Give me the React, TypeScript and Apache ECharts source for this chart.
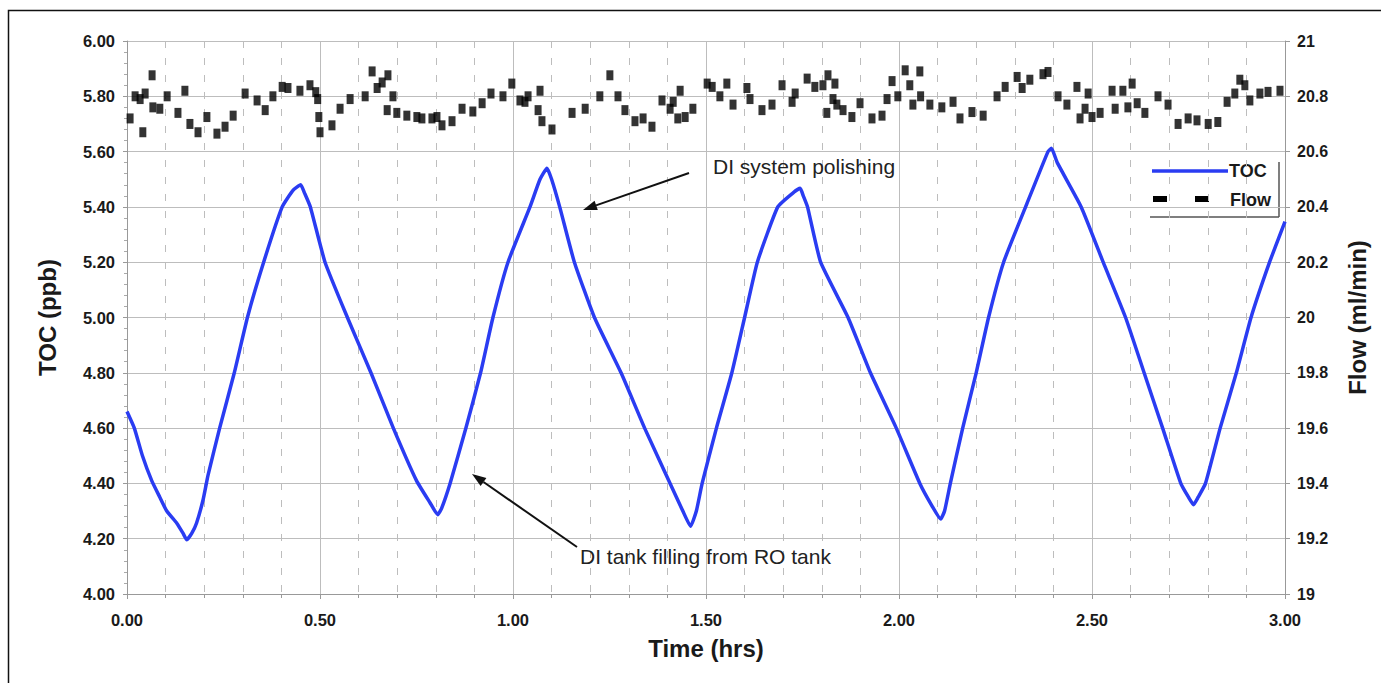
import React, { useEffect, useRef } from "react";
import * as echarts from "echarts";

// TOC (ppb) vs time (hrs)
const tocTime = [0, 0.019, 0.04, 0.064, 0.085, 0.103, 0.129, 0.145, 0.155, 0.168, 0.18, 0.197, 0.21, 0.24, 0.278, 0.312, 0.354, 0.402, 0.43, 0.45, 0.46, 0.475, 0.513, 0.571, 0.632, 0.69, 0.75, 0.785, 0.805, 0.815, 0.837, 0.878, 0.916, 0.948, 0.987, 1.044, 1.07, 1.088, 1.1, 1.121, 1.159, 1.211, 1.28, 1.341, 1.407, 1.44, 1.46, 1.475, 1.49, 1.527, 1.567, 1.6, 1.633, 1.686, 1.725, 1.744, 1.752, 1.763, 1.797, 1.868, 1.926, 1.993, 2.054, 2.085, 2.108, 2.118, 2.133, 2.165, 2.2, 2.232, 2.271, 2.328, 2.386, 2.395, 2.41, 2.472, 2.529, 2.587, 2.635, 2.683, 2.73, 2.75, 2.763, 2.775, 2.794, 2.832, 2.874, 2.912, 2.96, 3.0];
const tocValue = [4.66, 4.6, 4.5, 4.41, 4.35, 4.3, 4.256, 4.22, 4.196, 4.22, 4.256, 4.34, 4.43, 4.6, 4.8, 5.0, 5.2, 5.4, 5.46, 5.48, 5.45, 5.4, 5.2, 5.0, 4.8, 4.6, 4.41, 4.33, 4.287, 4.31, 4.4, 4.6, 4.8, 5.0, 5.2, 5.4, 5.5, 5.54, 5.5, 5.4, 5.2, 5.0, 4.8, 4.6, 4.4, 4.3, 4.245, 4.3, 4.4, 4.6, 4.8, 5.0, 5.2, 5.4, 5.45, 5.467, 5.44, 5.4, 5.2, 5.0, 4.8, 4.6, 4.4, 4.32, 4.271, 4.3, 4.4, 4.6, 4.8, 5.0, 5.2, 5.4, 5.6, 5.612, 5.56, 5.4, 5.2, 5.0, 4.8, 4.6, 4.4, 4.35, 4.323, 4.35, 4.4, 4.6, 4.8, 5.0, 5.2, 5.347];

// Flow (ml/min) vs time (hrs)
const flowTime = [0.008, 0.021, 0.034, 0.041, 0.047, 0.065, 0.067, 0.085, 0.104, 0.132, 0.15, 0.163, 0.184, 0.207, 0.233, 0.254, 0.275, 0.306, 0.337, 0.358, 0.378, 0.402, 0.417, 0.448, 0.474, 0.489, 0.494, 0.497, 0.5, 0.531, 0.552, 0.578, 0.617, 0.635, 0.648, 0.661, 0.674, 0.676, 0.689, 0.699, 0.725, 0.751, 0.764, 0.79, 0.803, 0.816, 0.842, 0.868, 0.896, 0.92, 0.943, 0.974, 0.997, 1.018, 1.031, 1.039, 1.065, 1.07, 1.075, 1.101, 1.153, 1.187, 1.225, 1.251, 1.272, 1.29, 1.316, 1.337, 1.36, 1.386, 1.407, 1.415, 1.427, 1.433, 1.446, 1.466, 1.503, 1.516, 1.536, 1.554, 1.57, 1.606, 1.614, 1.645, 1.671, 1.697, 1.723, 1.731, 1.762, 1.782, 1.803, 1.813, 1.816, 1.829, 1.834, 1.839, 1.855, 1.878, 1.899, 1.93, 1.956, 1.969, 1.982, 1.997, 2.016, 2.028, 2.036, 2.054, 2.056, 2.08, 2.111, 2.14, 2.158, 2.189, 2.218, 2.254, 2.275, 2.306, 2.319, 2.339, 2.373, 2.386, 2.412, 2.435, 2.461, 2.469, 2.482, 2.49, 2.5, 2.521, 2.552, 2.56, 2.58, 2.593, 2.604, 2.617, 2.637, 2.671, 2.697, 2.723, 2.749, 2.772, 2.801, 2.826, 2.85, 2.87, 2.883, 2.896, 2.909, 2.935, 2.956, 2.987];
const flowValue = [20.72, 20.8, 20.79, 20.67, 20.81, 20.876, 20.76, 20.755, 20.8, 20.74, 20.82, 20.7, 20.67, 20.725, 20.665, 20.69, 20.73, 20.81, 20.785, 20.75, 20.8, 20.834, 20.83, 20.82, 20.84, 20.815, 20.79, 20.725, 20.67, 20.695, 20.755, 20.79, 20.8, 20.89, 20.83, 20.85, 20.75, 20.876, 20.8, 20.74, 20.73, 20.725, 20.72, 20.72, 20.725, 20.695, 20.71, 20.755, 20.745, 20.775, 20.81, 20.8, 20.846, 20.785, 20.78, 20.8, 20.75, 20.82, 20.71, 20.68, 20.74, 20.755, 20.8, 20.876, 20.8, 20.75, 20.71, 20.72, 20.69, 20.785, 20.755, 20.78, 20.72, 20.82, 20.725, 20.755, 20.846, 20.834, 20.8, 20.846, 20.77, 20.83, 20.79, 20.75, 20.77, 20.84, 20.78, 20.81, 20.864, 20.834, 20.84, 20.74, 20.876, 20.79, 20.846, 20.77, 20.75, 20.725, 20.775, 20.72, 20.73, 20.79, 20.855, 20.8, 20.894, 20.84, 20.77, 20.89, 20.8, 20.77, 20.76, 20.78, 20.72, 20.743, 20.73, 20.8, 20.834, 20.87, 20.83, 20.86, 20.88, 20.888, 20.8, 20.77, 20.834, 20.72, 20.755, 20.81, 20.725, 20.74, 20.82, 20.755, 20.82, 20.76, 20.846, 20.775, 20.74, 20.8, 20.77, 20.7, 20.72, 20.713, 20.7, 20.707, 20.78, 20.81, 20.86, 20.84, 20.785, 20.81, 20.816, 20.82];

const FONT = '"Liberation Sans", Arial, sans-serif';
const BLUE = "#2a3cf2";

export default function App() {
  const ref = useRef<HTMLDivElement>(null);
  useEffect(() => {
    if (!ref.current) return;
    const chart = echarts.init(ref.current, null, { renderer: "svg" });
    const labelStyle = { fontFamily: FONT, fontSize: 16.5, fontWeight: "bold", color: "#1a1a1a" };
    const nameStyle = { fontFamily: FONT, fontSize: 24, fontWeight: "bold", color: "#1a1a1a" };
    chart.setOption({
      animation: false,
      backgroundColor: "#ffffff",
      textStyle: { fontFamily: FONT },
      grid: { left: 127, right: 96, top: 41, bottom: 89, containLabel: false },
      xAxis: {
        type: "value",
        min: 0,
        max: 3,
        interval: 0.5,
        name: "Time (hrs)",
        nameLocation: "middle",
        nameGap: 42,
        nameTextStyle: nameStyle,
        axisLabel: { ...labelStyle, margin: 17, formatter: (v: number) => v.toFixed(2) },
        axisLine: { show: true, lineStyle: { color: "#999", width: 1 } },
        axisTick: { show: true, length: 5, lineStyle: { color: "#999" } },
        minorTick: { show: true, splitNumber: 5, length: 4, lineStyle: { color: "#999" } },
        splitLine: { show: true, lineStyle: { color: "#bdbdbd", width: 1 } },
        minorSplitLine: { show: true, lineStyle: { color: "#bdbdbd", width: 1, type: [7, 10] } },
      },
      yAxis: [
        {
          type: "value",
          min: 4,
          max: 6,
          interval: 0.2,
          name: "TOC (ppb)",
          nameLocation: "middle",
          nameGap: 68,
          nameTextStyle: nameStyle,
          axisLabel: { ...labelStyle, margin: 12, formatter: (v: number) => v.toFixed(2) },
          axisLine: { show: true, lineStyle: { color: "#999" } },
          axisTick: { show: true, length: 4, lineStyle: { color: "#999" } },
          minorTick: { show: true, splitNumber: 5, length: 3, lineStyle: { color: "#aaa" } },
          splitLine: { show: true, lineStyle: { color: "#bdbdbd", width: 1 } },
        },
        {
          type: "value",
          min: 19,
          max: 21,
          interval: 0.2,
          position: "right",
          name: "Flow (ml/min)",
          nameLocation: "middle",
          nameGap: 60,
          nameTextStyle: nameStyle,
          axisLabel: { ...labelStyle, fontSize: 16, margin: 12 },
          axisLine: { show: true, lineStyle: { color: "#999" } },
          axisTick: { show: true, length: 5, lineStyle: { color: "#999" } },
          splitLine: { show: false },
        },
      ],
      series: [
        {
          name: "TOC",
          type: "line",
          yAxisIndex: 0,
          data: tocTime.map((t, i) => [t, tocValue[i]]),
          showSymbol: false,
          smooth: 0.15,
          lineStyle: { color: BLUE, width: 3.5, join: "round" },
          itemStyle: { color: BLUE },
          z: 3,
        },
        {
          name: "Flow",
          type: "scatter",
          yAxisIndex: 1,
          data: flowTime.map((t, i) => [t, flowValue[i]]),
          symbol: "rect",
          symbolSize: [7, 10],
          itemStyle: { color: "#000" },
          z: 4,
        },
      ],
      graphic: [
        {
          type: "rect",
          silent: true,
          shape: { x: 8.5, y: 10.5, width: 1380, height: 690 },
          style: { fill: "none", stroke: "#111", lineWidth: 1.5 },
          z: 0,
        },
        // legend
        {
          type: "group",
          z: 100,
          children: [
            { type: "rect", shape: { x: 1149, y: 161, width: 130, height: 55 }, style: { fill: "#fff" } },
            { type: "line", shape: { x1: 1279, y1: 162, x2: 1279, y2: 217 }, style: { stroke: "#555", lineWidth: 1.5 } },
            { type: "line", shape: { x1: 1150, y1: 217, x2: 1279, y2: 217 }, style: { stroke: "#555", lineWidth: 1.5 } },
            { type: "line", shape: { x1: 1152, y1: 171, x2: 1228, y2: 171 }, style: { stroke: BLUE, lineWidth: 3.5 } },
            { type: "text", x: 1229, y: 171, style: { text: "TOC", font: `bold 18px ${FONT}`, fill: "#1a1a1a", verticalAlign: "middle" } },
            { type: "rect", shape: { x: 1153, y: 196, width: 14, height: 6 }, style: { fill: "#000" } },
            { type: "rect", shape: { x: 1195, y: 196, width: 14, height: 6 }, style: { fill: "#000" } },
            { type: "text", x: 1230, y: 200, style: { text: "Flow", font: `bold 18px ${FONT}`, fill: "#1a1a1a", verticalAlign: "middle" } },
          ],
        },
        // annotations
        {
          type: "text",
          z: 100,
          x: 713,
          y: 166,
          style: { text: "DI system polishing", font: `21px ${FONT}`, fill: "#222", verticalAlign: "middle" },
        },
        { type: "line", z: 100, shape: { x1: 689, y1: 173, x2: 596, y2: 205.4 }, style: { stroke: "#111", lineWidth: 2 } },
        { type: "polygon", z: 100, shape: { points: [[583, 210], [597.8, 210.1], [594.6, 200.7]] }, style: { fill: "#111" } },
        {
          type: "text",
          z: 100,
          x: 580,
          y: 556,
          style: { text: "DI tank filling from RO tank", font: `21px ${FONT}`, fill: "#222", verticalAlign: "middle" },
        },
        { type: "line", z: 100, shape: { x1: 577, y1: 547, x2: 483.5, y2: 482 }, style: { stroke: "#111", lineWidth: 2 } },
        { type: "polygon", z: 100, shape: { points: [[472, 474], [486.4, 477.9], [480.6, 486.1]] }, style: { fill: "#111" } },
      ],
    });
    return () => chart.dispose();
  }, []);
  return (
    <div
      ref={ref}
      style={{ position: "fixed", left: 0, top: 0, width: 1381, height: 683, background: "#fff" }}
    />
  );
}
